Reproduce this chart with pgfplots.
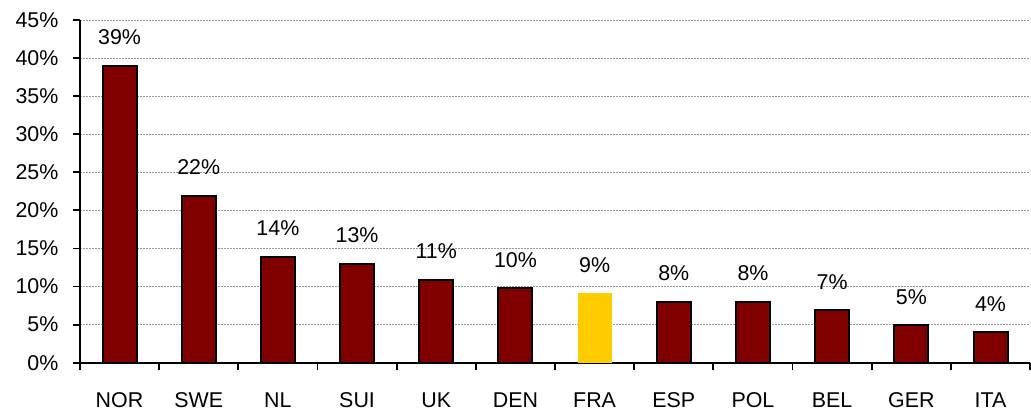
\documentclass[border=0pt]{standalone}
\usepackage{fontspec}
\setmainfont{Liberation Sans}
\usepackage{pgfplots}
\pgfplotsset{compat=1.18}
\definecolor{barred}{RGB}{128,0,0}
\definecolor{baryel}{RGB}{255,204,0}
\newcommand{\bigf}{\fontsize{21.5}{25}\selectfont}
\begin{document}
\begin{tikzpicture}
\begin{axis}[
  scale only axis,
  width=951bp, height=343bp,
  xmin=-0.5, xmax=11.5,
  ymin=0, ymax=45,
  axis lines*=left,
  axis line style={line width=1.8bp, -},
  ybar, bar width=34bp, bar shift=0pt,
  xtick={0,...,11},
  xticklabels={NOR,SWE,NL,SUI,UK,DEN,FRA,ESP,POL,BEL,GER,ITA},
  minor xtick={-0.5,0.5,...,11.5},
  major x tick style={draw=none},
  minor x tick style={line width=1.8bp, black},
  tick align=outside,
  minor tick length=7bp,
  major tick length=7bp,
  ytick={0,5,...,45},
  yticklabels={0\%,5\%,10\%,15\%,20\%,25\%,30\%,35\%,40\%,45\%},
  y tick style={line width=1.8bp, black},
  ymajorgrids,
  major y grid style={gray!80, dash pattern=on 2bp off 1bp, line width=0.7bp},
  every tick label/.append style={font=\bigf, text=black},
  xticklabel style={anchor=base, yshift=-38bp},
  yticklabel style={anchor=east, xshift=-11bp},
  point meta=explicit symbolic,
  nodes near coords,
  every node near coord/.append style={font=\bigf, anchor=base, yshift=21bp, inner sep=0pt, text=black},
  clip=false,
]
\addplot[fill=barred, draw=black, line width=2bp] table[meta=lab] {
x y lab
0 39 39\%
1 21.9 22\%
2 13.9 14\%
3 13 13\%
4 10.9 11\%
5 9.8 10\%
7 8 8\%
8 8 8\%
9 6.9 7\%
10 4.9 5\%
11 4 4\%
};
\addplot[fill=baryel, draw=none] table[meta=lab] {
x y lab
6 9.1 9\%
};
\end{axis}
\useasboundingbox (-80bp,-47bp) rectangle (951bp,363bp);
\end{tikzpicture}
\end{document}
